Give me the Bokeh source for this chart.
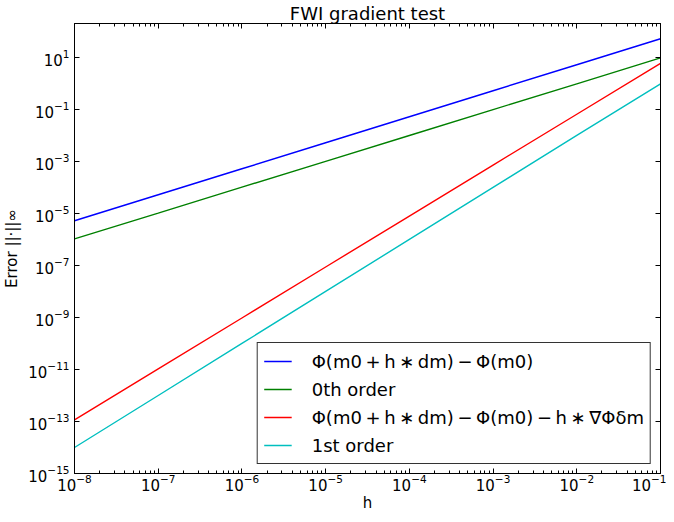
from bokeh.plotting import figure
from bokeh.models import Legend, LegendItem, LogAxis, FixedTicker, Range1d
from bokeh.embed import file_html
from bokeh.resources import INLINE

# ---- data ----
h = [1e-8, 1e-7, 1e-6, 1e-5, 1e-4, 1e-3, 1e-2, 1e-1]
err_phi = [5.2e-6, 5.2e-5, 5.2e-4, 5.2e-3, 5.2e-2, 0.52, 5.2, 52.0]
order0 = [1.05e-6, 1.02e-5, 1.02e-4, 1.0e-3, 9.9e-3, 9.8e-2, 0.96, 9.5]
err_grad = [1.15e-13, 1.05e-11, 9.5e-10, 8.7e-8, 7.9e-6, 7.2e-4, 6.5e-2, 5.9]
order1 = [1.0e-14, 1.0e-12, 1.0e-10, 1.0e-8, 1.0e-6, 1.0e-4, 1.0e-2, 0.96]

T = "\u2009"  # thin space around operators
labels = [
    f"\u03a6(m0{T}+{T}h{T}\u2217{T}dm){T}\u2212{T}\u03a6(m0)",
    "0th order",
    f"\u03a6(m0{T}+{T}h{T}\u2217{T}dm){T}\u2212{T}\u03a6(m0){T}\u2212{T}h{T}\u2217{T}\u2207\u03a6\u03b4m",
    "1st order",
]
colors = ["#0000ff", "#008000", "#ff0000", "#00bfbf"]

x_ticks = [1e-8, 1e-7, 1e-6, 1e-5, 1e-4, 1e-3, 1e-2, 1e-1]
y_ticks = [1e-15, 1e-13, 1e-11, 1e-9, 1e-7, 1e-5, 1e-3, 1e-1, 1e1]
x_minor = [m * 10.0 ** e for e in range(-8, -1) for m in range(2, 10)]

FONT = "DejaVu Sans"

p = figure(width=666, height=514, x_axis_type="log", y_axis_type="log",
           x_range=Range1d(1e-8, 1e-1), y_range=Range1d(1e-15, 200),
           output_backend="svg", toolbar_location=None,
           title="FWI gradient test",
           min_border_left=50, min_border_right=6, min_border_top=16, min_border_bottom=30)

p.title.align = "center"
p.title.text_font = FONT
p.title.text_font_size = "18px"
p.title.text_font_style = "normal"
p.title.text_color = "black"
p.title.standoff = 0
p.title.offset = 0

p.grid.visible = False
p.outline_line_color = "black"
p.outline_line_width = 1
p.background_fill_color = "white"
p.border_fill_color = "white"

rs = []
for ys, c in zip([err_phi, order0, err_grad, order1], colors):
    rs.append(p.line(h, ys, line_color=c, line_width=1.4))

xt = FixedTicker(ticks=x_ticks, minor_ticks=x_minor)
yt = FixedTicker(ticks=y_ticks, minor_ticks=y_ticks)


def style_axis(ax):
    ax.axis_line_color = "black"
    ax.major_tick_in = 5
    ax.major_tick_out = 0
    ax.minor_tick_in = 3
    ax.minor_tick_out = 0
    ax.major_tick_line_color = "black"
    ax.minor_tick_line_color = "black"
    ax.major_label_text_font = FONT
    ax.major_label_text_font_size = "15px"
    ax.major_label_text_color = "black"
    ax.axis_label_text_font = FONT
    ax.axis_label_text_font_size = "15px"
    ax.axis_label_text_font_style = "normal"
    ax.axis_label_text_color = "black"


xa = p.xaxis[0]
xa.ticker = xt
style_axis(xa)
xa.major_label_standoff = 0
xa.major_label_text_line_height = 0.8
xa.axis_label = "h"
xa.axis_label_standoff = 0
xa.axis_label_text_line_height = 0.6

ya = p.yaxis[0]
ya.ticker = yt
style_axis(ya)
ya.minor_tick_line_color = None
ya.major_label_standoff = 5
ya.axis_label = "Error ||\u00b7||\u221e"
ya.axis_label_standoff = 4

top = LogAxis(ticker=xt)
style_axis(top)
top.major_label_text_font_size = "1px"
top.major_label_text_color = None
top.major_label_standoff = 0
p.add_layout(top, "above")

right = LogAxis(ticker=yt)
style_axis(right)
right.minor_tick_line_color = None
right.major_label_text_font_size = "1px"
right.major_label_text_color = None
right.major_label_standoff = 0
p.add_layout(right, "right")

legend = Legend(items=[LegendItem(label=l, renderers=[r]) for l, r in zip(labels, rs)],
                location="bottom_right", margin=9, padding=6, spacing=4,
                label_text_font=FONT, label_text_font_size="18px", label_text_color="black",
                label_height=24, glyph_height=24, glyph_width=28, label_standoff=20,
                border_line_color="black", border_line_width=1.5, border_line_alpha=0.8,
                background_fill_color="white", background_fill_alpha=1.0)
p.add_layout(legend)

open("out.html", "w").write(file_html(p, INLINE))
